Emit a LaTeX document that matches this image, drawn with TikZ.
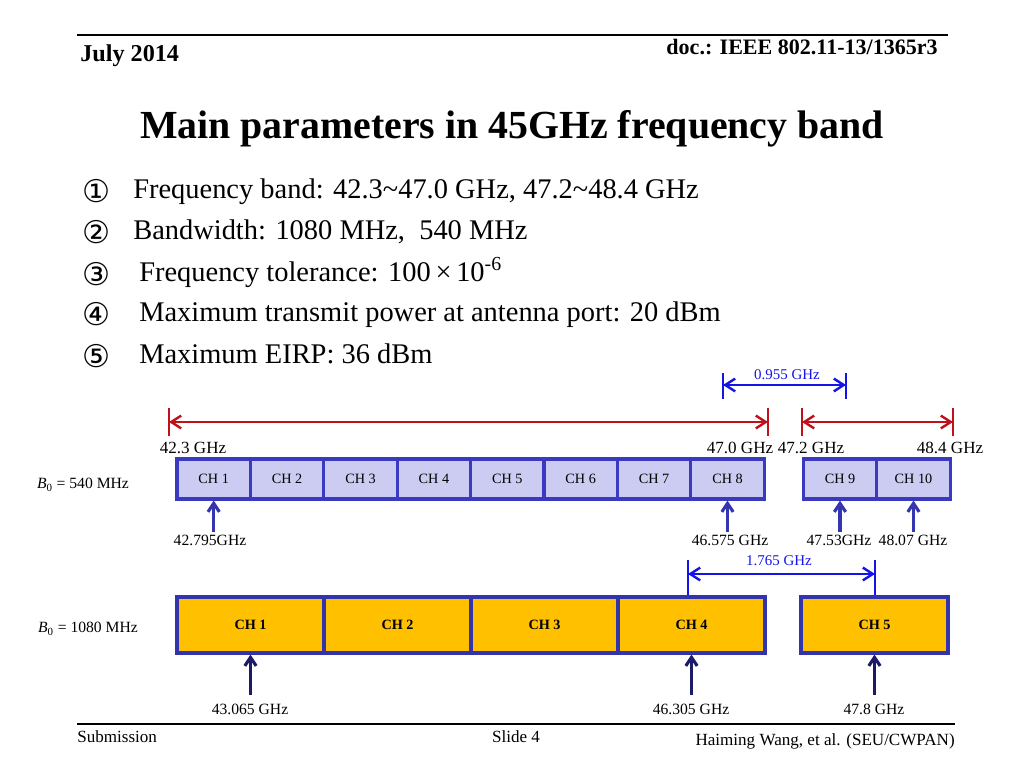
\documentclass[tikz,border=0pt]{standalone}
\usepackage{fontspec}
\setmainfont{Liberation Serif}
\newfontfamily\circfont{DejaVu Sans}
\usetikzlibrary{arrows.meta}
\definecolor{chfill}{HTML}{CCCCF2}
\definecolor{chline}{HTML}{3A3AC0}
\definecolor{chlineB}{HTML}{3333AA}
\definecolor{orangefill}{HTML}{FFC000}
\definecolor{bandred}{HTML}{C0101A}
\definecolor{dimblue}{HTML}{1414E6}
\definecolor{arrA}{HTML}{3535B0}
\definecolor{arrB}{HTML}{1C1C66}
\begin{document}
\begin{tikzpicture}[x=0.703125pt,y=-0.703125pt,
  ch/.style={draw=chline, line width=2.2pt, fill=chfill, minimum width=51.6pt, minimum height=28.1pt, inner sep=0pt, font=\fontsize{10}{12}\selectfont},
  chw/.style={draw=chlineB, line width=2.2pt, fill=orangefill, minimum width=103.4pt, minimum height=39.4pt, inner sep=0pt, font=\fontsize{10}{12}\selectfont\bfseries},
  freqlbl/.style={font=\fontsize{12}{14}\selectfont, inner sep=1pt},
  cflbl/.style={font=\fontsize{11}{13}\selectfont, inner sep=2pt},
  dimlbl/.style={font=\fontsize{10.5}{12}\selectfont, text=dimblue, inner sep=1pt},
  redarr/.style={draw=bandred, line width=1.7pt, {Straight Barb[length=7pt,width=9pt]}-{Straight Barb[length=7pt,width=9pt]}},
  redtick/.style={draw=bandred, line width=1.9pt},
  dimarr/.style={draw=dimblue, line width=1.7pt, {Straight Barb[length=7pt,width=9pt]}-{Straight Barb[length=7pt,width=9pt]}},
  dimtick/.style={draw=dimblue, line width=1.9pt},
  uparrA/.style={draw=arrA, line width=2.2pt, -{Straight Barb[length=6pt,width=8pt]}},
  uparrB/.style={draw=arrB, line width=2.2pt, -{Straight Barb[length=6pt,width=8pt]}},
  bullet/.style={anchor=base west, font=\fontsize{20}{24}\selectfont, inner sep=0pt},
  circ/.style={anchor=base, font=\circfont\fontsize{22}{24}\selectfont, inner sep=0pt},
  rule/.style={draw=black, line width=1pt}
]
\useasboundingbox (0,0) rectangle (1024,768);

% header
\draw[rule] (77,35) -- (948,35);
\node[anchor=base west, font=\fontsize{17}{20}\selectfont\bfseries, inner sep=0pt] (hdate) at (80,62) {July 2014};
\node[anchor=base east, font=\fontsize{15.5}{18}\selectfont\bfseries, inner sep=0pt] (hdoc) at (938,55) {doc.: IEEE 802.11-13/1365r3};

% title
\node[anchor=base, font=\fontsize{28}{32}\selectfont\bfseries, inner sep=0pt] (title) at (512,139) {Main parameters in 45GHz frequency band};

% bullets
\node[circ] (n1) at (97,203) {①};
\node[bullet] (b1) at (133,199) {Frequency band: 42.3\char`~47.0 GHz, 47.2\char`~48.4 GHz};
\node[circ] (n2) at (97,244) {②};
\node[bullet] (b2) at (133,240) {Bandwidth: 1080 MHz,\ \ 540 MHz};
\node[circ] (n3) at (97,285) {③};
\node[bullet] (b3) at (139,281) {Frequency tolerance: 100\,×\,10\textsuperscript{-6}};
\node[circ] (n4) at (97,326) {④};
\node[bullet] (b4) at (139,322) {Maximum transmit power at antenna port: 20 dBm};
\node[circ] (n5) at (97,367) {⑤};
\node[bullet] (b5) at (139,363) {Maximum EIRP: 36 dBm};

% 0.955 GHz dimension
\coordinate (da1) at (723,385);
\coordinate (da2) at (846,385);
\draw[dimtick] (723,373) -- (723,399);
\draw[dimtick] (846,373) -- (846,399);
\draw[dimarr] (da1) -- (da2);
\node[dimlbl] (dl1) at (787,375) {0.955 GHz};

% red band arrows
\coordinate (r1) at (169,422);
\coordinate (r2) at (768,422);
\coordinate (r3) at (802,422);
\coordinate (r4) at (953,422);
\draw[redtick] (169,408) -- (169,436);
\draw[redtick] (768,408) -- (768,436);
\draw[redtick] (802,408) -- (802,436);
\draw[redtick] (953,408) -- (953,436);
\draw[redarr] (r1) -- (r2);
\draw[redarr] (r3) -- (r4);
\node[freqlbl] (f1) at (193,448) {42.3 GHz};
\node[freqlbl] (f2) at (740,448) {47.0 GHz};
\node[freqlbl] (f3) at (811,448) {47.2 GHz};
\node[freqlbl] (f4) at (950,448) {48.4 GHz};

% row 1 : 540 MHz
\node[font=\fontsize{11}{13}\selectfont] (B540) at (83,485) {\textit{B}\textsubscript{0} = 540 MHz};
\foreach \i in {1,...,8} {
  \node[ch] (a\i) at ({177+73.4*(\i-0.5)},479) {CH \i};
}
\node[ch] (a9) at (840,479) {CH 9};
\node[ch] (a10) at (913.5,479) {CH 10};

\node[cflbl] (la1) at (210,540) {42.795GHz};
\node[cflbl] (la8) at (730,540) {46.575 GHz};
\node[cflbl] (la9) at (839,540) {47.53GHz};
\node[cflbl] (la10) at (913,540) {48.07 GHz};
\draw[uparrA] (la1.north -| a1.south) -- (a1.south);
\draw[uparrA] (la8.north -| a8.south) -- (a8.south);
\draw[uparrA] (la9.north -| a9.south) -- (a9.south);
\draw[uparrA] (la10.north -| a10.south) -- (a10.south);

% 1.765 GHz dimension
\coordinate (db1) at (688,574);
\coordinate (db2) at (875,574);
\draw[dimtick] (688,560) -- (688,595);
\draw[dimtick] (875,560) -- (875,595);
\draw[dimarr] (db1) -- (db2);
\node[dimlbl] (dl2) at (779,561) {1.765 GHz};

% row 2 : 1080 MHz
\node[font=\fontsize{11}{13}\selectfont] (B1080) at (88,629) {\textit{B}\textsubscript{0} = 1080 MHz};
\foreach \i in {1,...,4} {
  \node[chw] (w\i) at ({177+147*(\i-0.5)},625) {CH \i};
}
\node[chw] (w5) at (874.5,625) {CH 5};

\node[cflbl] (lw1) at (250,709) {43.065 GHz};
\node[cflbl] (lw4) at (691,709) {46.305 GHz};
\node[cflbl] (lw5) at (874,709) {47.8 GHz};
\draw[uparrB, shorten <=4pt] (lw1.north -| w1.south) -- (w1.south);
\draw[uparrB, shorten <=4pt] (lw4.north -| w4.south) -- (w4.south);
\draw[uparrB, shorten <=4pt] (lw5.north -| w5.south) -- (w5.south);

% footer
\draw[rule] (77,724) -- (955,724);
\node[anchor=base west, font=\fontsize{12}{14}\selectfont, inner sep=0pt] (fsub) at (77,742) {Submission};
\node[anchor=base, font=\fontsize{12}{14}\selectfont, inner sep=0pt] (fslide) at (516,742) {Slide 4};
\node[anchor=base east, font=\fontsize{12}{14}\selectfont, inner sep=0pt] (fauth) at (955,745) {Haiming Wang, et al. (SEU/CWPAN)};
\end{tikzpicture}
\end{document}
